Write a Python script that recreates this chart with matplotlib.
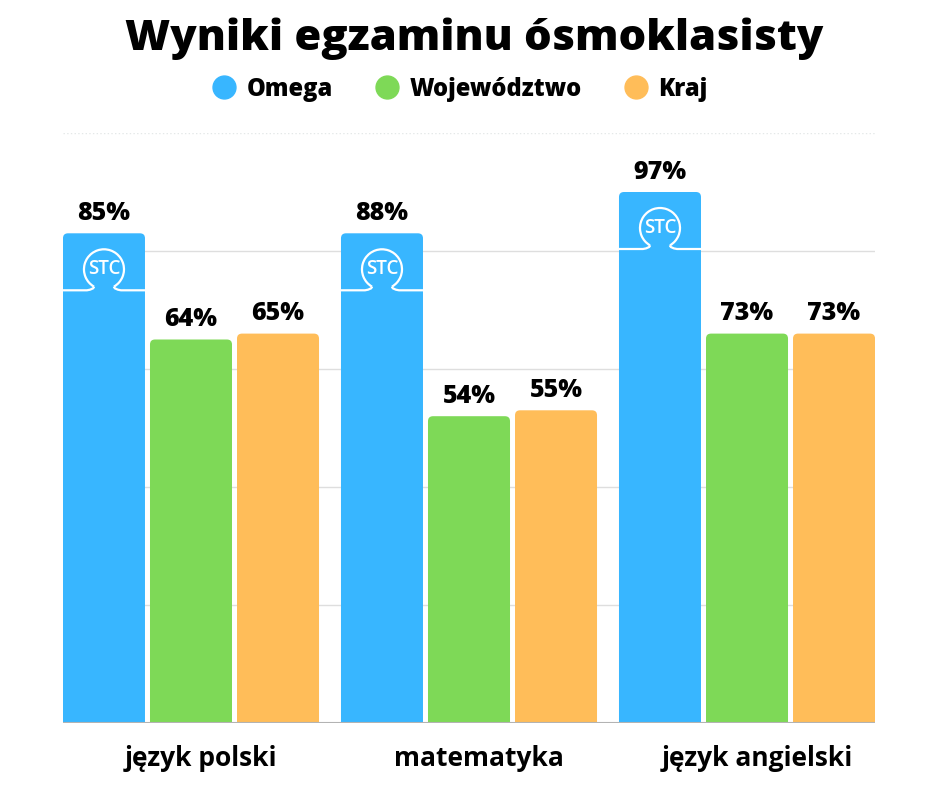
import matplotlib
matplotlib.use("Agg")
import matplotlib.pyplot as plt
import numpy as np
from matplotlib.lines import Line2D
from matplotlib.patches import FancyBboxPatch, PathPatch
from matplotlib.path import Path
from matplotlib.transforms import Affine2D, ScaledTranslation

subjects = ["język polski", "matematyka", "język angielski"]
series = ["Omega", "Województwo", "Kraj"]
colors = ["#38b6ff", "#7ed957", "#ffbd59"]

# printed results
omega = [85, 88, 97]
wojewodztwo = [64, 54, 73]
kraj = [65, 55, 73]

# bar heights as drawn in the source chart (its scale does not follow the labels)
omega_drawn = [83, 83, 90]
wojewodztwo_drawn = [65, 52, 66]
kraj_drawn = [66, 53, 66]

plt.rcParams["font.family"] = ["Open Sans", "DejaVu Sans"]

W, H, DPI = 940, 788, 100
fig = plt.figure(figsize=(W / DPI, H / DPI), dpi=DPI)
ax = fig.add_axes([63 / W, 65 / H, 812 / W, 590 / H])

groups = np.arange(len(subjects))
width = 0.295
step = 0.313
ax.set_xlim(-0.4604, 2.4604)
ax.set_ylim(0, 100)

# px -> data scale factors, used for rounded corners
px_x = 1 / 278
px_y = 100 / 590
radius = 5

values = [omega, wojewodztwo, kraj]
drawn = [omega_drawn, wojewodztwo_drawn, kraj_drawn]

for i, (vals, heights, color) in enumerate(zip(values, drawn, colors)):
    xs = groups + (i - 1) * step
    bars = ax.bar(xs, heights, width, color=color, zorder=2)
    for rect, v in zip(bars, vals):
        rect.set_visible(False)
        x0, w, h = rect.get_x(), rect.get_width(), rect.get_height()
        patch = FancyBboxPatch(
            (x0, -5), w, h + 5,
            boxstyle=f"round,pad=0,rounding_size={radius * px_x}",
            mutation_aspect=px_y / px_x,
            facecolor=color, edgecolor="none", zorder=2,
        )
        ax.add_patch(patch)
        ax.annotate(
            f"{v}%", (x0 + w / 2, h), xytext=(0, 9.5), textcoords="offset points",
            ha="center", va="baseline", fontsize=18, fontweight="heavy",
        )

# STC logo on the Omega bars, drawn in pixel units from the bar top centre
to_px = Affine2D().scale(1 / DPI) + fig.dpi_scale_trans
r, cy, line_y = 20, -36, -57
arc = Path.arc(-60, 240)
arc = Path(arc.vertices * r + [0, cy], arc.codes)
a0 = arc.vertices[0]
a1 = arc.vertices[-1]
for g, h in zip(groups, omega_drawn):
    tr = to_px + ScaledTranslation(g - step, h, ax.transData)
    kw = dict(facecolor="none", edgecolor="white", lw=1.6, transform=tr, zorder=3)
    ax.add_patch(PathPatch(arc, **kw))
    feet = Path(
        [(-41, line_y), (a1[0] - 7, line_y), (a1[0], line_y + 1), (a1[0], a1[1]),
         (a0[0], a0[1]), (a0[0], line_y + 1), (a0[0] + 7, line_y), (41, line_y)],
        [Path.MOVETO, Path.LINETO, Path.CURVE3, Path.CURVE3,
         Path.MOVETO, Path.CURVE3, Path.CURVE3, Path.LINETO],
    )
    ax.add_patch(PathPatch(feet, **kw))
    ax.text(0, cy, "STC", transform=tr, color="white", fontsize=13.5,
            fontweight="semibold", ha="center", va="center", zorder=3)

# grid
for y in [20, 40, 60, 80]:
    ax.axhline(y, color="#dedede", lw=1, zorder=1)
ax.axhline(100, color="#e4e8e8", lw=1, ls=":", zorder=1)
ax.axhline(0, color="#b3b3b3", lw=1.5, zorder=3)

for s in ax.spines.values():
    s.set_visible(False)
ax.set_yticks([])
ax.set_xticks(groups, subjects)
ax.tick_params(axis="x", length=0, pad=15.5, labelsize=19)
shift = ScaledTranslation(10 / DPI, 0, fig.dpi_scale_trans)
for lab in ax.get_xticklabels():
    lab.set_fontweight("bold")
    lab.set_transform(lab.get_transform() + shift)

fig.text(474 / W, 1 - 50 / H, "Wyniki egzaminu ósmoklasisty", ha="center",
         va="baseline", fontsize=31.3, fontweight="heavy")

handles = [Line2D([], [], ls="none", marker="o", markersize=16.5, color=c) for c in colors]
fig.legend(handles, series, loc="center", bbox_to_anchor=(460 / W, 1 - 89 / H), ncol=3,
           frameon=False, prop={"size": 17, "weight": "heavy"}, handlelength=1.0,
           handletextpad=0.45, columnspacing=1.8)

fig.savefig("out.png", dpi=DPI)
